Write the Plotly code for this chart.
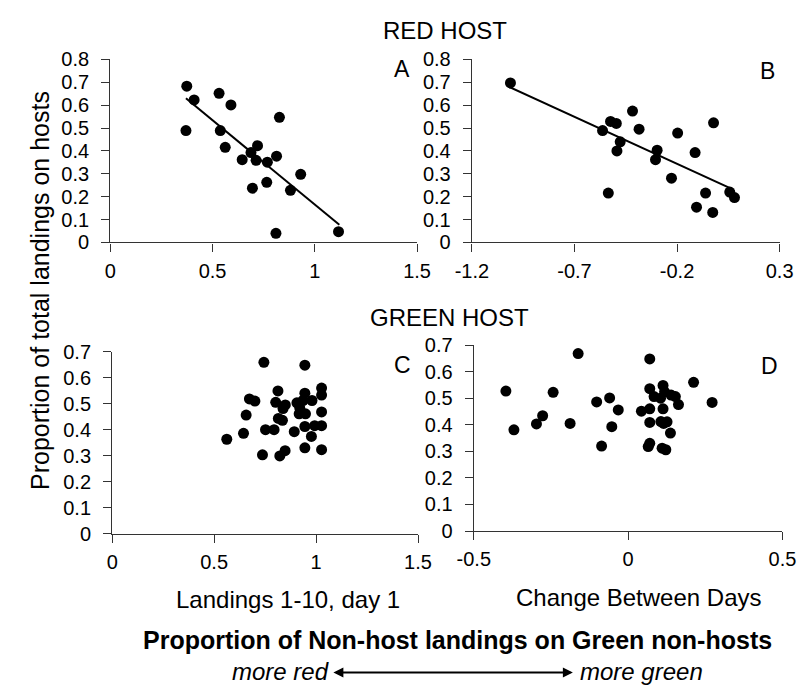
import plotly.graph_objects as go

# ---------------- data ----------------
a_x = [0.374, 0.41, 0.37, 0.532, 0.59, 0.538, 0.562, 0.827, 0.72, 0.688,
       0.645, 0.713, 0.768, 0.813, 0.931, 0.695, 0.765, 0.881, 0.81, 1.116]
a_y = [0.683, 0.623, 0.489, 0.652, 0.601, 0.489, 0.416, 0.547, 0.423, 0.393,
       0.362, 0.359, 0.351, 0.377, 0.298, 0.237, 0.263, 0.228, 0.04, 0.047]
a_fit_x = [0.37, 1.12]
a_fit_y = [0.63, 0.077]

b_x = [-1.012, -0.563, -0.524, -0.496, -0.417, -0.385, -0.477, -0.493, -0.535, -0.297,
       -0.305, -0.227, -0.197, -0.022, -0.112, -0.061, -0.105, -0.026, 0.057, 0.08]
b_y = [0.697, 0.489, 0.529, 0.52, 0.574, 0.495, 0.44, 0.40, 0.216, 0.403,
       0.362, 0.281, 0.478, 0.523, 0.393, 0.216, 0.154, 0.131, 0.22, 0.196]
b_fit_x = [-1.028, 0.064]
b_fit_y = [0.684, 0.235]

c_x = [0.744, 0.945, 0.813, 1.027, 1.027, 0.945, 0.673, 0.70, 0.802, 0.849,
       0.838, 0.906, 0.936, 0.98, 0.92, 0.917, 0.948, 1.027, 0.657, 0.815,
       0.835, 0.945, 0.993, 1.027, 0.752, 0.794, 0.893, 0.977, 0.644, 0.562,
       0.945, 1.027, 0.737, 0.848, 0.822]
c_y = [0.66, 0.649, 0.55, 0.561, 0.534, 0.541, 0.519, 0.511, 0.506, 0.496,
       0.482, 0.504, 0.513, 0.513, 0.484, 0.462, 0.462, 0.469, 0.457, 0.444,
       0.437, 0.413, 0.416, 0.416, 0.401, 0.401, 0.393, 0.375, 0.387, 0.364,
       0.331, 0.324, 0.304, 0.32, 0.30]

d_x = [-0.396, -0.37, -0.297, -0.277, -0.243, -0.162, -0.188, -0.102, -0.06, -0.032,
       -0.053, -0.086, 0.043, 0.07, 0.07, 0.07, 0.07, 0.07, 0.065, 0.084,
       0.105, 0.113, 0.118, 0.113, 0.106, 0.126, 0.115, 0.11, 0.122, 0.137,
       0.139, 0.153, 0.163, 0.212, 0.272]
d_y = [0.527, 0.381, 0.403, 0.434, 0.522, 0.668, 0.405, 0.486, 0.501, 0.456,
       0.393, 0.32, 0.451, 0.648, 0.536, 0.46, 0.409, 0.33, 0.318, 0.506,
       0.50, 0.548, 0.524, 0.46, 0.412, 0.411, 0.405, 0.312, 0.306, 0.369,
       0.512, 0.506, 0.476, 0.56, 0.484]

ab_xticks_left = [0, 0.5, 1, 1.5]
ab_xtext_left = ["0", "0.5", "1", "1.5"]
b_xticks = [-1.2, -0.7, -0.2, 0.3]
b_xtext = ["-1.2", "-0.7", "-0.2", "0.3"]
d_xticks = [-0.5, 0, 0.5]
d_xtext = ["-0.5", "0", "0.5"]
top_yticks = [0, 0.1, 0.2, 0.3, 0.4, 0.5, 0.6, 0.7, 0.8]
bot_yticks = [0, 0.1, 0.2, 0.3, 0.4, 0.5, 0.6, 0.7]

# ---------------- layout helpers ----------------
W, H = 809, 696
FONT = "Arial, Liberation Sans, sans-serif"


def px(x):
    return x / W


def py(y):
    return 1 - y / H


fig = go.Figure()

marker = dict(color="black", size=11)

fig.add_trace(go.Scatter(x=a_x, y=a_y, mode="markers", marker=marker, xaxis="x", yaxis="y"))
fig.add_trace(go.Scatter(x=a_fit_x, y=a_fit_y, mode="lines", line=dict(color="black", width=2),
                         xaxis="x", yaxis="y"))
fig.add_trace(go.Scatter(x=b_x, y=b_y, mode="markers", marker=marker, xaxis="x2", yaxis="y2"))
fig.add_trace(go.Scatter(x=b_fit_x, y=b_fit_y, mode="lines", line=dict(color="black", width=2),
                         xaxis="x2", yaxis="y2"))
fig.add_trace(go.Scatter(x=c_x, y=c_y, mode="markers", marker=marker, xaxis="x3", yaxis="y3"))
fig.add_trace(go.Scatter(x=d_x, y=d_y, mode="markers", marker=marker, xaxis="x4", yaxis="y4"))

axis_common = dict(showgrid=False, zeroline=False, showline=True, linecolor="#333",
                   linewidth=1.3, ticks="outside", ticklen=8, tickcolor="#333",
                   tickwidth=1.3, tickfont=dict(family=FONT, size=20, color="black"),
                   fixedrange=True)
xa = dict(axis_common, ticklabelstandoff=2)
ya = dict(axis_common, ticklabelstandoff=8)

fig.update_layout(
    width=W, height=H,
    margin=dict(l=0, r=0, t=0, b=0),
    paper_bgcolor="white", plot_bgcolor="white",
    showlegend=False,
    xaxis=dict(xa, domain=[px(97), px(416)], range=[0, 1.5],
               tickvals=ab_xticks_left, ticktext=ab_xtext_left, anchor="y"),
    yaxis=dict(ya, domain=[py(239), py(50)], range=[0, 0.8],
               tickvals=top_yticks, anchor="x"),
    xaxis2=dict(xa, domain=[px(473), px(793)], range=[-1.2, 0.3],
                tickvals=b_xticks, ticktext=b_xtext, anchor="y2"),
    yaxis2=dict(ya, domain=[py(239), py(50)], range=[0, 0.8],
                tickvals=top_yticks, anchor="x2"),
    xaxis3=dict(xa, domain=[px(99), px(417)], range=[0, 1.5],
                tickvals=ab_xticks_left, ticktext=ab_xtext_left, anchor="y3"),
    yaxis3=dict(ya, domain=[py(540), py(352)], range=[0, 0.7],
                tickvals=bot_yticks, anchor="x3"),
    xaxis4=dict(xa, domain=[px(475), px(796)], range=[-0.5, 0.5],
                tickvals=d_xticks, ticktext=d_xtext, anchor="y4"),
    yaxis4=dict(ya, domain=[py(537), py(345)], range=[0, 0.7],
                tickvals=bot_yticks, anchor="x4"),
)


def note(text, x, y, size, bold=False, italic=False, angle=0, xanchor="center"):
    t = text
    if bold:
        t = "<b>" + t + "</b>"
    if italic:
        t = "<i>" + t + "</i>"
    fig.add_annotation(text=t, x=px(x), y=py(y), xref="paper", yref="paper",
                       showarrow=False, textangle=angle, xanchor=xanchor, yanchor="middle",
                       font=dict(family=FONT, size=size, color="black"))


note("RED HOST", 445, 20, 24)
note("GREEN HOST", 450, 317, 24)
note("A", 400, 60, 23)
note("B", 780, 62, 23)
note("C", 401, 366, 23)
note("D", 782, 367, 23)
note("Proportion of total landings on hosts", 24, 289, 25, angle=-90)
note("Landings 1-10, day 1", 282, 608, 24)
note("Change Between Days", 646, 606, 24)
note("Proportion of Non-host landings on Green non-hosts", 458, 650, 25, bold=True)
note("more red", 326, 682, 24, italic=True, xanchor="right")
note("more green", 583, 682, 24, italic=True, xanchor="left")

# double-headed arrow
fig.add_annotation(x=px(578), y=py(683), ax=-(578 - 337), ay=0, xref="paper", yref="paper",
                   axref="pixel", ayref="pixel", text="", showarrow=True, arrowhead=2,
                   arrowside="end+start", arrowwidth=2, arrowsize=1, arrowcolor="black")

fig.write_html("out.html", config={"displayModeBar": False},
               post_script="document.body.style.margin='0';")
